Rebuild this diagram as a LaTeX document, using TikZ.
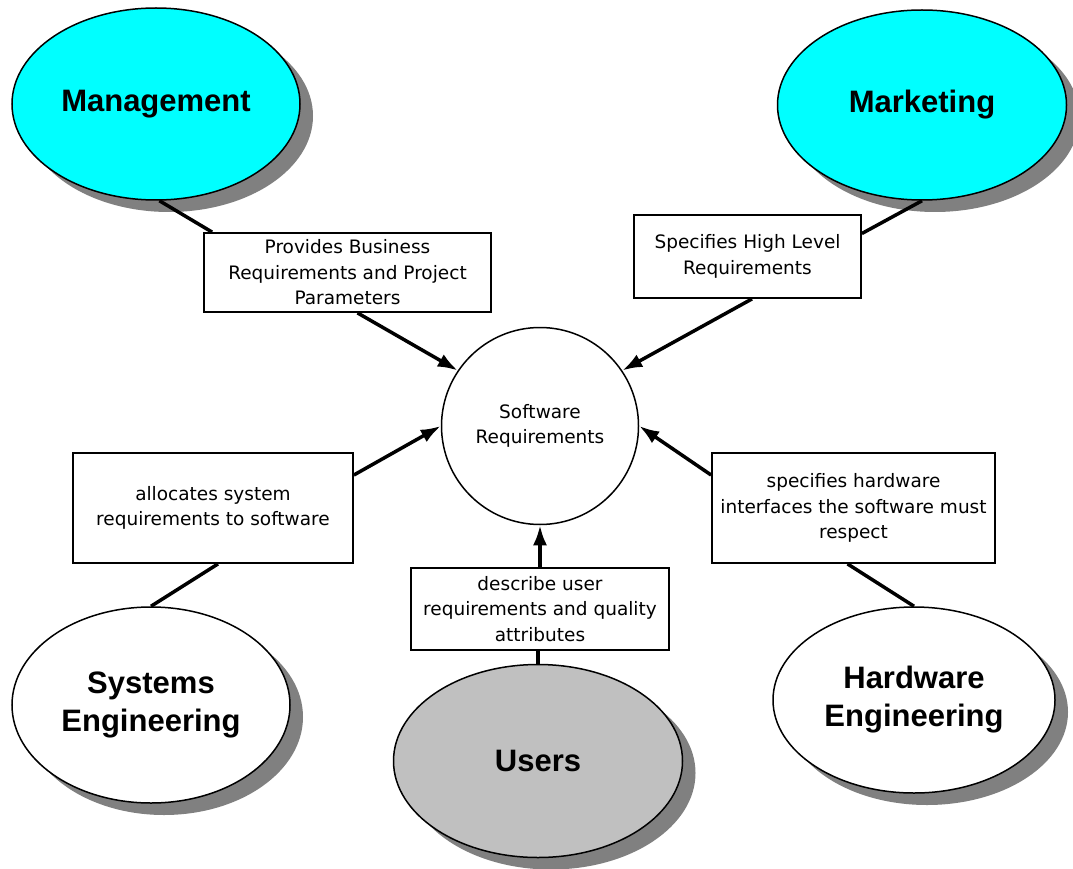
\documentclass[tikz,border=0pt]{standalone}
\usepackage{fontspec}
\newfontfamily\boldlab{Liberation Sans}
\newfontfamily\boxfont{DejaVu Sans}
\usetikzlibrary{shapes.geometric,arrows.meta,shadows}
\definecolor{aqua}{RGB}{0,255,255}
\definecolor{usergray}{RGB}{192,192,192}
\definecolor{shadowgray}{RGB}{128,128,128}
\begin{document}
\begin{tikzpicture}[x=1pt,y=-1pt,
  blob/.style={ellipse, draw, line width=1.5pt, inner sep=0pt, align=center,
    font=\boldlab\bfseries\fontsize{31}{38}\selectfont,
    drop shadow={shadow xshift=13pt, shadow yshift=-12pt, opacity=1, fill=shadowgray}},
  lbl/.style={rectangle, draw, line width=1.8pt, fill=white, inner sep=0pt, align=center,
    font=\boxfont\fontsize{18.5}{25.5}\selectfont},
  link/.style={line width=3.5pt},
  arr/.style={line width=3.5pt, -{Latex[length=20pt,width=14pt]}}]
\useasboundingbox (0,0) rectangle (1073,869);
\fill[white] (0,0) rectangle (1073,869);

% central circle
\node[circle, draw, line width=1.5pt, minimum size=197pt, inner sep=0pt, align=center,
  font=\boxfont\fontsize{18.5}{25.5}\selectfont] (sw) at (540,426) {Software\\Requirements};

% stakeholder ellipses
\node[blob, fill=aqua, minimum width=288pt, minimum height=192pt] (mgmt) at (156,104) {Management};
\node[blob, fill=aqua, minimum width=289pt, minimum height=190pt] (mkt) at (922,105) {Marketing};
\node[blob, fill=white, minimum width=278pt, minimum height=196pt] (sys) at (151,705) {Systems\\Engineering};
\node[blob, fill=usergray, minimum width=289pt, minimum height=193pt] (users) at (538,761) {Users};
\node[blob, fill=white, minimum width=282pt, minimum height=186pt] (hw) at (914,700) {Hardware\\Engineering};

% label boxes
\node[lbl, minimum width=287pt, minimum height=79pt] (mbox) at (347.5,272.5) {Provides Business\\Requirements and Project\\Parameters};
\node[lbl, minimum width=227pt, minimum height=83pt] (kbox) at (747.5,256.5) {Specifies High Level\\Requirements};
\node[lbl, minimum width=280pt, minimum height=110pt] (sbox) at (213,508) {allocates system\\requirements to software};
\node[lbl, minimum width=258pt, minimum height=82pt] (ubox) at (540,609) {describe user\\requirements and quality\\attributes};
\node[lbl, minimum width=283pt, minimum height=110pt] (hbox) at (853.5,508) {specifies hardware\\interfaces the software must\\respect};

% connectors: ellipse to label
\draw[link] (mgmt.-88) -- ([xshift=9pt]mbox.north west);
\draw[link] (mkt.south) -- ([yshift=23pt]kbox.east);
\draw[link] (sys.north) -- ([xshift=5pt]sbox.south);
\draw[link] (users.north) -- (users.north |- ubox.south);
\draw[link] (hw.north) -- ([xshift=-6pt]hbox.south);

% arrows: label to software requirements
\draw[arr] ([xshift=10pt]mbox.south) -- (sw.146);
\draw[arr] ([xshift=4.5pt]kbox.south) -- (sw.34);
\draw[arr] ([yshift=33pt]sbox.east) -- (sw.180);
\draw[arr] (ubox.north) -- (sw.south);
\draw[arr] ([yshift=33pt]hbox.west) -- (sw.0);
\end{tikzpicture}
\end{document}
